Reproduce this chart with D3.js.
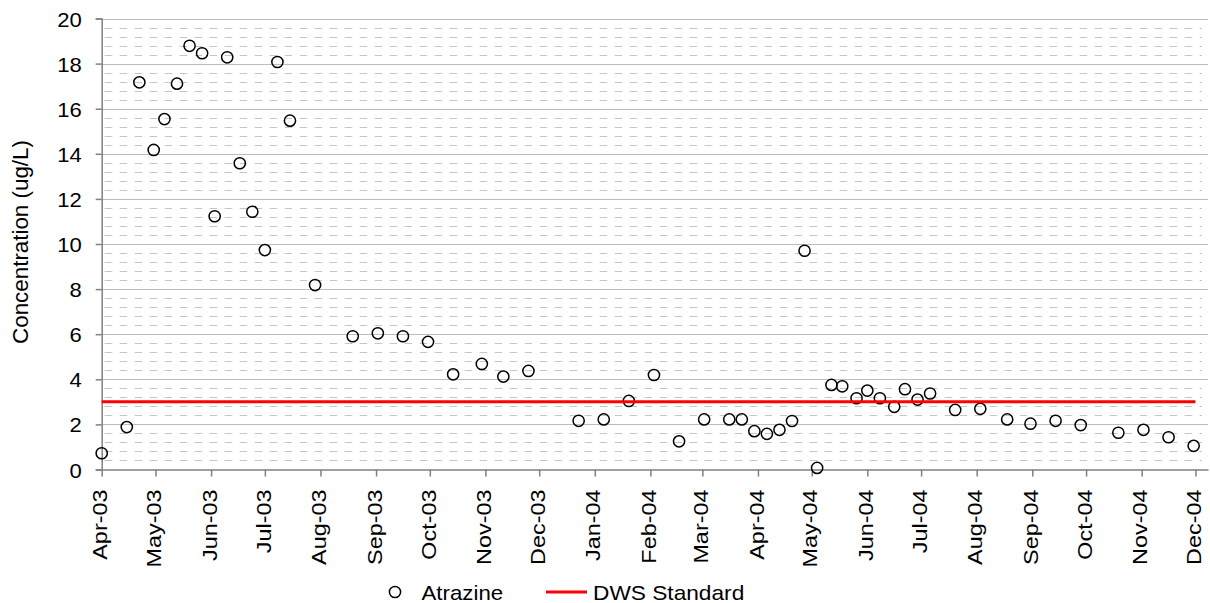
<!DOCTYPE html>
<html>
<head>
<meta charset="utf-8">
<script src="https://cdn.jsdelivr.net/npm/d3@7"></script>
<style>
  html, body { margin: 0; padding: 0; background: #fff; }
  svg { display: block; font-family: "Liberation Sans", Arial, sans-serif; }
</style>
</head>
<body>
<svg id="chart" width="1210" height="603"></svg>
<script>
// sample dates and atrazine concentrations (ug/L)
const sampleDates = [
  '2003-04-01', '2003-04-15', '2003-04-22', '2003-04-30', '2003-05-06', '2003-05-13',
  '2003-05-20', '2003-05-27', '2003-06-03', '2003-06-10', '2003-06-17', '2003-06-24',
  '2003-07-01', '2003-07-08', '2003-07-15', '2003-07-29', '2003-08-19', '2003-09-02',
  '2003-09-16', '2003-09-30', '2003-10-14', '2003-10-30', '2003-11-11', '2003-11-25',
  '2003-12-23', '2004-01-06', '2004-01-20', '2004-02-03', '2004-02-17', '2004-03-02',
  '2004-03-16', '2004-03-23', '2004-03-30', '2004-04-06', '2004-04-13', '2004-04-20',
  '2004-04-27', '2004-05-04', '2004-05-12', '2004-05-18', '2004-05-26', '2004-06-01',
  '2004-06-08', '2004-06-16', '2004-06-22', '2004-06-29', '2004-07-06', '2004-07-20',
  '2004-08-03', '2004-08-18', '2004-08-31', '2004-09-14', '2004-09-28', '2004-10-19',
  '2004-11-02', '2004-11-16', '2004-11-30'
]
const atrazine = [
  0.72, 1.88, 17.17, 14.17, 15.54, 17.11,
  18.79, 18.46, 11.23, 18.28, 13.58, 11.43,
  9.73, 18.07, 15.47, 8.18, 5.91, 6.04,
  5.91, 5.66, 4.22, 4.68, 4.12, 4.37,
  2.16, 2.22, 3.04, 4.19, 1.25, 2.22,
  2.22, 2.22, 1.70, 1.58, 1.76, 2.15,
  9.70, 0.07, 3.75, 3.69, 3.16, 3.50,
  3.16, 2.78, 3.56, 3.10, 3.37, 2.64,
  2.69, 2.22, 2.03, 2.16, 1.97, 1.63,
  1.76, 1.43, 1.05
]
const dwsStandard = 3
const dwsRange = ['2003-04-01', '2004-12-01']
const yTicks = [0, 2, 4, 6, 8, 10, 12, 14, 16, 18, 20]

const parse = d3.timeParse('%Y-%m-%d')
const points = sampleDates.map((d, i) => ({ date: parse(d), value: atrazine[i] }))

const M = { left: 101.7, right: 1208, top: 18.5, bottom: 469.5 }

const svg = d3.select('#chart')

const x = d3.scaleTime()
  .domain([new Date(2003, 3, 1), new Date(2004, 11, 8)])
  .range([M.left, M.right])
const y = d3.scaleLinear().domain([0, 20]).range([M.bottom, M.top])

// widen glyphs like the original rendering
function stretch(sel, k) {
  sel.each(function () {
    const w = this.getComputedTextLength()
    this.setAttribute('textLength', w * k)
    this.setAttribute('lengthAdjust', 'spacingAndGlyphs')
  })
}

// minor dashed grid
const minor = d3.range(0.4, 20, 0.4).filter(v => Math.abs(v / 2 - Math.round(v / 2)) > 0.01)
svg.append('g').selectAll('line').data(minor).join('line')
  .attr('x1', M.left + 3).attr('x2', M.right - 6)
  .attr('y1', d => Math.round(y(d)) + 0.5).attr('y2', d => Math.round(y(d)) + 0.5)
  .attr('stroke', '#c6c6c6').attr('stroke-width', 1)
  .attr('stroke-dasharray', '7.5,7.5')

// major grid
svg.append('g').selectAll('line').data(yTicks.slice(1)).join('line')
  .attr('x1', M.left).attr('x2', M.right)
  .attr('y1', d => Math.round(y(d)) + 0.5).attr('y2', d => Math.round(y(d)) + 0.5)
  .attr('stroke', '#bdbdbd').attr('stroke-width', 1)

// y axis
const gy = svg.append('g').attr('transform', `translate(${M.left},0)`)
  .call(d3.axisLeft(y).tickValues(yTicks).tickSize(6).tickPadding(14))
gy.select('.domain').attr('stroke', '#808080').attr('stroke-width', 1.5)
gy.selectAll('.tick line').attr('stroke', '#808080').attr('stroke-width', 1.5)
gy.selectAll('.tick text').attr('font-size', 21).attr('fill', '#000')
  .attr('font-family', '"Liberation Sans", Arial, sans-serif')
  .attr('dy', '0.36em').call(stretch, 1.05)

// x axis
const months = d3.timeMonth.range(new Date(2003, 3, 1), new Date(2004, 11, 2))
const gx = svg.append('g').attr('transform', `translate(0,${M.bottom})`)
  .call(d3.axisBottom(x).tickValues(months).tickFormat(d3.timeFormat('%b-%y')).tickSize(7).tickSizeOuter(0))
gx.select('.domain').attr('stroke', '#808080').attr('stroke-width', 1.5)
gx.selectAll('.tick line').attr('stroke', '#808080').attr('stroke-width', 1.5)
gx.selectAll('.tick text')
  .attr('font-size', 20).attr('fill', '#000')
  .attr('font-family', '"Liberation Sans", Arial, sans-serif')
  .attr('text-anchor', 'end')
  .attr('transform', 'rotate(-90)')
  .attr('x', -20).attr('y', 0).attr('dy', '0.26em')
  .call(stretch, 1.17)

// y title
svg.append('text')
  .attr('transform', `translate(28,${(M.top + M.bottom) / 2 - 2}) rotate(-90)`)
  .attr('text-anchor', 'middle')
  .attr('font-size', 21.5)
  .text('Concentration (ug/L)')
  .call(stretch, 1.04)

// atrazine samples
svg.append('g').selectAll('circle').data(points).join('circle')
  .attr('cx', d => x(d.date))
  .attr('cy', d => y(d.value))
  .attr('r', 5.6)
  .attr('fill', 'none')
  .attr('stroke', '#000')
  .attr('stroke-width', 1.5)

// DWS standard
svg.append('line')
  .attr('x1', x(parse(dwsRange[0]))).attr('x2', x(parse(dwsRange[1])))
  .attr('y1', y(dwsStandard)).attr('y2', y(dwsStandard))
  .attr('stroke', '#ff0000').attr('stroke-width', 3)

// legend
const lg = svg.append('g').attr('transform', 'translate(0,592)')
lg.append('circle').attr('cx', 395).attr('cy', 0).attr('r', 5.6)
  .attr('fill', 'none').attr('stroke', '#000').attr('stroke-width', 1.5)
lg.append('text').attr('x', 421.5).attr('y', 0).attr('dy', '0.36em')
  .attr('font-size', 21).text('Atrazine').call(stretch, 1.06)
lg.append('line').attr('x1', 546).attr('x2', 587).attr('y1', 0).attr('y2', 0)
  .attr('stroke', '#ff0000').attr('stroke-width', 3)
lg.append('text').attr('x', 593).attr('y', 0).attr('dy', '0.36em')
  .attr('font-size', 21).text('DWS Standard').call(stretch, 1.08)
</script>
</body>
</html>
